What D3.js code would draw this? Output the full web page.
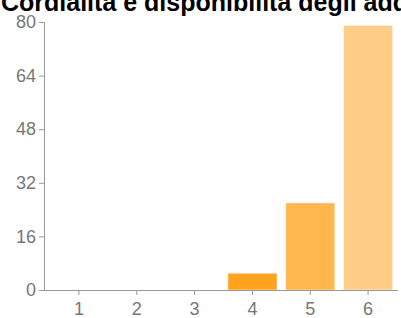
<!DOCTYPE html>
<html>
<head>
<meta charset="utf-8">
<script src="https://cdn.jsdelivr.net/npm/d3@7"></script>
<style>
  body { margin: 0; background: #fff; }
  svg { display: block; }
</style>
</head>
<body>
<svg id="chart" width="401" height="318"></svg>
<script>
const title = "Cordialità e disponibilità degli addetti";
const categories = ["1", "2", "3", "4", "5", "6"];
const values = [0, 0, 0, 5, 26, 79];
const barColors = ["#ffa31f", "#ffa31f", "#ffa31f", "#ffa31f", "#ffb64f", "#ffcd88"];
const yTicks = [0, 16, 32, 48, 64, 80];

const svg = d3.select("#chart");
const plotLeft = 44, plotRight = 398, plotTop = 22, plotBottom = 290;

const x = d3.scaleBand()
  .domain(categories)
  .range([50, 397])
  .paddingInner(0.15)
  .paddingOuter(0.075);

const y = d3.scaleLinear()
  .domain([0, 80])
  .range([plotBottom, plotTop]);

// bars
svg.selectAll(".bar")
  .data(values)
  .join("rect")
  .attr("class", "bar")
  .attr("x", (d, i) => x(categories[i]))
  .attr("y", d => y(d))
  .attr("width", x.bandwidth())
  .attr("height", d => y(0) - y(d))
  .attr("fill", (d, i) => barColors[i])
  .attr("stroke", "rgba(255,255,255,0.5)")
  .attr("stroke-width", 1);

// y axis
const yAxis = svg.append("g")
  .attr("transform", `translate(${plotLeft},0)`)
  .call(d3.axisLeft(y).tickValues(yTicks).tickSize(5).tickSizeOuter(5));
yAxis.select(".domain").attr("stroke", "#999");
yAxis.selectAll(".tick line").attr("stroke", "#999");
yAxis.selectAll(".tick text")
  .attr("font-family", "Liberation Sans, Arial, sans-serif")
  .attr("font-size", 18)
  .attr("fill", "#777")
  .attr("x", -8);

// x axis
const xAxis = svg.append("g")
  .attr("transform", `translate(0,${plotBottom})`)
  .call(d3.axisBottom(x).tickSize(5).tickSizeOuter(0));
xAxis.select(".domain").attr("stroke", "#999").attr("d", `M${plotLeft},0.5H${plotRight}`);
xAxis.selectAll(".tick line").attr("stroke", "#999");
xAxis.selectAll(".tick text")
  .attr("font-family", "Liberation Sans, Arial, sans-serif")
  .attr("font-size", 18)
  .attr("fill", "#777")
  .attr("y", 12);

// title, clipped by the top edge like the original
svg.append("text")
  .attr("x", 1)
  .attr("y", 11)
  .attr("font-family", "Liberation Sans, Arial, sans-serif")
  .attr("font-weight", "bold")
  .attr("font-size", 25)
  .attr("fill", "#000")
  .text(title);
</script>
</body>
</html>
